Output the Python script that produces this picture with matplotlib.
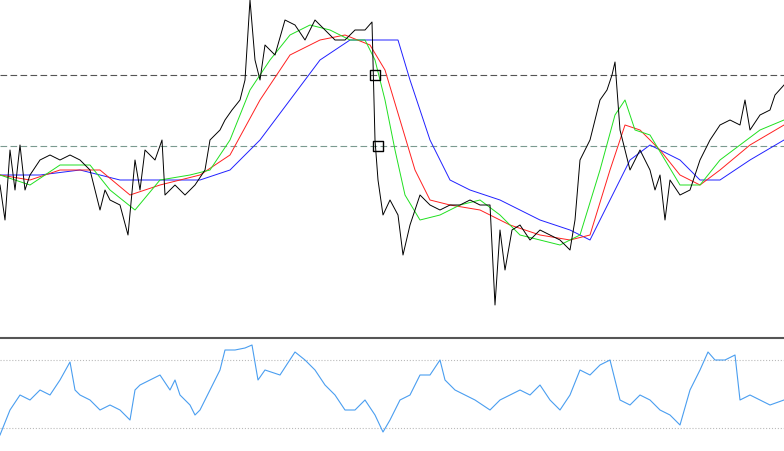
import matplotlib
matplotlib.use("Agg")
import matplotlib.pyplot as plt

# values expressed in chart units (larger = lower on screen)
price_x = [0, 5, 10, 15, 20, 25, 30, 40, 50, 60, 70, 80, 90, 100, 105, 110, 120, 128, 135, 140, 145, 155, 162, 165,
           175, 185, 195, 205, 210, 220, 225, 232, 240, 245, 250, 255, 260, 265, 275, 285, 295, 305, 315, 325, 335,
           345, 355, 365, 372, 375, 378, 383, 390, 398, 403, 410, 420, 430, 440, 450, 460, 470, 480, 490, 495, 500,
           505, 512, 520, 530, 540, 550, 560, 570, 575, 580, 590, 600, 607, 612, 615, 620, 625, 630, 640, 650, 655,
           660, 665, 670, 680, 690, 700, 710, 720, 730, 740, 745, 750, 760, 770, 775, 784]
price_y = [185, 220, 150, 190, 145, 190, 175, 160, 155, 160, 155, 160, 170, 210, 190, 200, 205, 235, 160, 190, 150,
           160, 140, 195, 185, 195, 185, 170, 140, 130, 120, 110, 100, 80, 0, 60, 80, 45, 55, 20, 25, 40, 20, 30, 40,
           40, 30, 30, 22, 140, 180, 215, 200, 215, 255, 225, 195, 205, 210, 205, 205, 200, 205, 205, 305, 230, 270,
           230, 225, 240, 230, 235, 240, 250, 220, 160, 140, 100, 90, 75, 62, 130, 150, 170, 150, 170, 190, 175, 220,
           180, 195, 190, 160, 140, 125, 120, 125, 100, 130, 115, 110, 95, 85]

fast_x = [0, 30, 60, 90, 110, 135, 160, 190, 210, 230, 250, 270, 290, 310, 330, 350, 365, 375, 385, 395, 405, 420,
          440, 460, 480, 500, 520, 540, 560, 580, 600, 615, 625, 635, 650, 665, 680, 700, 720, 740, 760, 784]
fast_y = [175, 185, 165, 165, 190, 210, 180, 175, 170, 140, 90, 60, 35, 25, 30, 40, 40, 60, 100, 150, 195, 220,
          215, 205, 200, 215, 235, 240, 245, 235, 170, 115, 100, 130, 135, 160, 185, 185, 160, 145, 130, 120]

mid_x = [0, 30, 60, 100, 130, 160, 200, 230, 260, 290, 320, 345, 370, 385, 400, 415, 430, 450, 480, 510, 540, 570,
         590, 610, 625, 640, 660, 680, 700, 720, 750, 784]
mid_y = [175, 180, 170, 170, 195, 185, 175, 155, 100, 55, 40, 35, 45, 70, 120, 170, 200, 205, 210, 225, 235, 240,
         235, 170, 125, 130, 150, 175, 185, 170, 145, 125]

slow_x = [0, 40, 80, 120, 160, 200, 230, 260, 290, 320, 350, 380, 398, 410, 430, 450, 470, 500, 520, 540, 570, 590,
          610, 630, 650, 680, 700, 720, 750, 784]
slow_y = [175, 175, 170, 180, 180, 180, 170, 140, 100, 60, 40, 40, 40, 80, 140, 180, 190, 200, 210, 220, 230, 240,
          200, 160, 145, 160, 180, 180, 160, 140]

osc_x = [0, 10, 20, 30, 40, 50, 60, 70, 75, 80, 90, 100, 110, 120, 130, 135, 140, 150, 160, 170, 175, 180, 190, 195,
         200, 210, 220, 225, 235, 245, 252, 258, 265, 280, 295, 305, 315, 325, 335, 345, 355, 365, 375, 383, 390, 400,
         410, 420, 430, 440, 445, 455, 465, 475, 490, 500, 510, 520, 530, 540, 550, 560, 570, 580, 590, 600, 610, 620,
         630, 640, 650, 660, 670, 680, 690, 700, 708, 715, 725, 735, 740, 750, 760, 770, 784]
osc_y = [435, 410, 395, 400, 390, 395, 380, 362, 390, 395, 400, 410, 405, 410, 420, 390, 385, 380, 375, 390, 380, 395,
         405, 415, 410, 390, 370, 350, 350, 348, 345, 380, 370, 375, 352, 360, 370, 385, 395, 410, 410, 400, 415, 432,
         420, 400, 395, 375, 375, 360, 380, 390, 395, 400, 410, 400, 395, 390, 395, 385, 400, 410, 395, 370, 375, 365,
         360, 400, 405, 395, 400, 410, 415, 425, 390, 370, 352, 360, 360, 355, 400, 395, 400, 405, 400]

level_hi = 75
level_lo = 146
osc_levels = [360, 428]
marker_x = [375, 378]
marker_y = [75, 146]

fig = plt.figure(figsize=(7.84, 4.51), dpi=100)
ax = fig.add_axes([0, 114 / 451, 1, 337 / 451])
ax2 = fig.add_axes([0, 0, 1, 113 / 451])

ax.axhline(level_hi, color="#555555", lw=0.8, dashes=(6, 3))
ax.axhline(level_lo, color="#7a9a90", lw=0.8, dashes=(6, 3))
ax.plot(slow_x, slow_y, color="#2020ff", lw=0.7)
ax.plot(mid_x, mid_y, color="#ff2020", lw=0.7)
ax.plot(fast_x, fast_y, color="#20e020", lw=0.7)
ax.plot(price_x, price_y, color="black", lw=0.7)
ax.scatter(marker_x, marker_y, marker="s", s=60, facecolors="none", edgecolors="black", lw=1, zorder=5)
ax.set_xlim(0, 784)
ax.set_ylim(337, 0)

for lv in osc_levels:
    ax2.axhline(lv, color="#bbbbbb", lw=0.8, ls=":")
ax2.plot(osc_x, osc_y, color="#4a9ef0", lw=0.8)
ax2.set_xlim(0, 784)
ax2.set_ylim(451, 338)

for a in (ax, ax2):
    a.set_xticks([])
    a.set_yticks([])
    for s in a.spines.values():
        s.set_visible(False)
ax2.spines["top"].set_visible(True)
ax2.spines["top"].set_color("#555555")
ax2.spines["top"].set_linewidth(1.5)

fig.savefig("out.png", dpi=100)
